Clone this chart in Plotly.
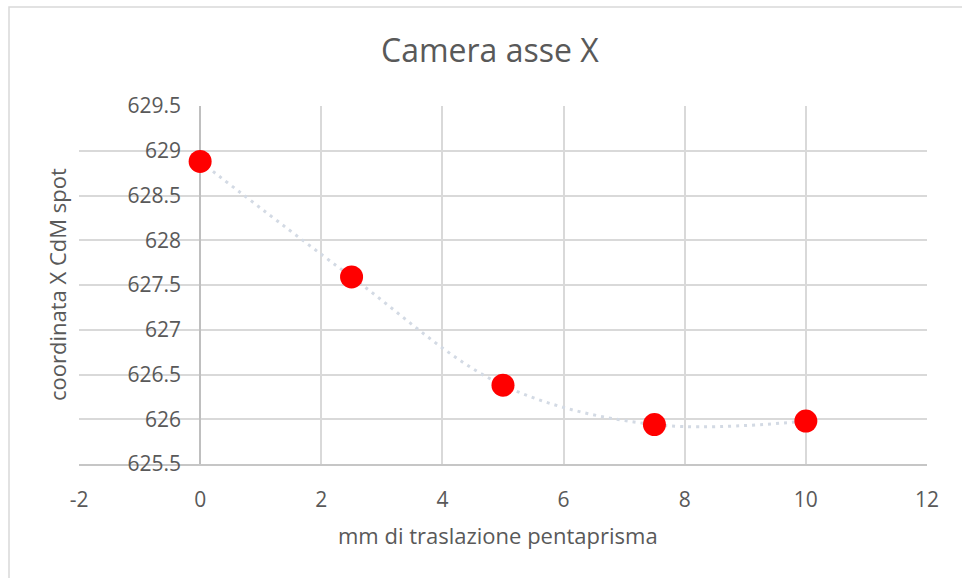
import plotly.graph_objects as go

# Data
x_mm = [0, 2.5, 5, 7.5, 10]
y_coord = [628.88, 627.59, 626.38, 625.94, 625.98]

x_range = [-2, 12]
y_range = [625.5, 629.5]
x_ticks = [-2, 0, 2, 4, 6, 8, 10, 12]
x_ticktext = ["-2", "0", "2", "4", "6", "8", "10", "12"]
y_ticks = [625.5, 626, 626.5, 627, 627.5, 628, 628.5, 629, 629.5]
y_ticktext = ["625.5", "626", "626.5", "627", "627.5", "628", "628.5", "629", "629.5"]

title_text = "Camera asse X"
x_title = "mm di traslazione pentaprisma"
y_title = "coordinata X CdM spot"

FONT = "Open Sans"
TXT = "#595959"
GRID = "#D9D9D9"

fig = go.Figure()

# smoothed dotted connecting line
fig.add_trace(go.Scatter(
    x=x_mm, y=y_coord, mode="lines",
    line=dict(shape="spline", smoothing=1.0, color="#D3DAE4", width=3, dash="3px,5px"),
    hoverinfo="skip", showlegend=False,
))
# markers
fig.add_trace(go.Scatter(
    x=x_mm, y=y_coord, mode="markers",
    marker=dict(size=23, color="#FF0000", line=dict(width=0)),
    showlegend=False,
))

fig.update_layout(
    width=962, height=578, autosize=False,
    margin=dict(l=79, r=35, t=106, b=114),
    paper_bgcolor="white", plot_bgcolor="white",
    font=dict(family=FONT, color=TXT, size=21),
    xaxis=dict(
        range=x_range, tickvals=x_ticks, ticktext=x_ticktext,
        showgrid=True, gridcolor=GRID, gridwidth=1.5,
        zeroline=True, zerolinecolor="#BFBFBF", zerolinewidth=1.5,
        showline=True, linecolor="#C6C6C6", linewidth=1.5,
        ticks="", ticklabelstandoff=16, automargin=False,
        tickfont=dict(size=21, color=TXT),
    ),
    yaxis=dict(
        range=y_range, tickvals=y_ticks, ticktext=y_ticktext,
        showgrid=True, gridcolor=GRID, gridwidth=1.5,
        zeroline=False, showline=False, ticks="", automargin=False,
        ticklabelposition="outside", ticklabelstandoff=-103,
        tickfont=dict(size=21, color=TXT),
    ),
    shapes=[dict(
        type="rect", xref="paper", yref="paper",
        x0=(9 - 79) / 848, x1=(975 - 79) / 848,
        y0=-(600 - 464) / 358, y1=1 + (106 - 7) / 358,
        line=dict(color=GRID, width=1.5), layer="below",
    )],
    annotations=[
        dict(text=title_text, xref="paper", yref="paper", x=(489.5 - 79) / 848,
             y=1 + (106 - 50) / 358, xanchor="center", yanchor="middle",
             showarrow=False, font=dict(size=32, color=TXT, family=FONT)),
        dict(text=x_title, xref="paper", yref="paper", x=(498 - 79) / 848,
             y=-(535 - 464) / 358, xanchor="center", yanchor="middle",
             showarrow=False, font=dict(size=22, color=TXT, family=FONT)),
        dict(text=y_title, xref="paper", yref="paper", x=(57 - 79) / 848,
             y=0.5, xanchor="center", yanchor="middle", textangle=-90,
             showarrow=False, font=dict(size=22, color=TXT, family=FONT)),
    ],
)

fig.write_html("out.html", config={"displayModeBar": False},
               post_script="document.body.style.margin='0';")
